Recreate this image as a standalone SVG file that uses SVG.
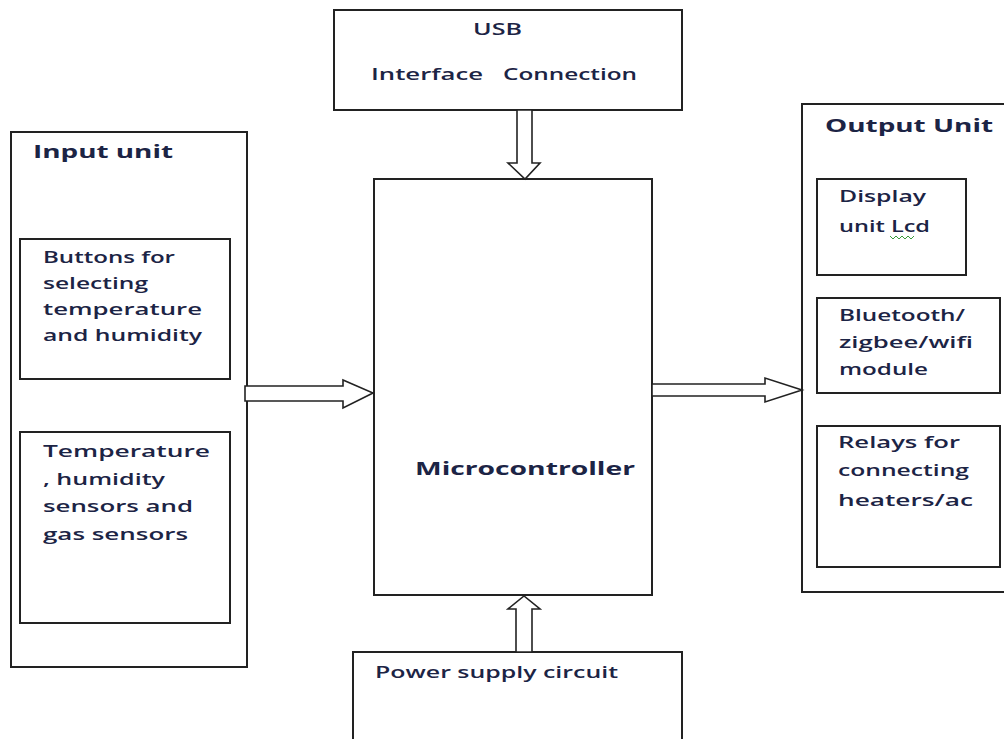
<svg xmlns="http://www.w3.org/2000/svg" width="1004" height="739" viewBox="0 0 1004 739">
<style>
.box{fill:#fff;stroke:#222;stroke-width:2}
.arr{fill:#fff;stroke:#222;stroke-width:1.6;stroke-linejoin:miter}
text{font-family:"Open Sans","Liberation Sans",sans-serif;fill:#1c2445;font-size:16px;font-weight:600}
.b{font-weight:bold;font-size:18px}
</style>
<rect width="1004" height="739" fill="#fff"/>
<g id="usb">
<rect class="box" x="334" y="10" width="348" height="100"/>
<text x="473" y="35" textLength="49" lengthAdjust="spacingAndGlyphs">USB</text>
<text x="371" y="80" textLength="112" lengthAdjust="spacingAndGlyphs">Interface</text>
<text x="503" y="80" textLength="134" lengthAdjust="spacingAndGlyphs">Connection</text>
</g>
<g id="microcontroller">
<rect class="box" x="374" y="179" width="278" height="416"/>
<text class="b" x="415" y="475" textLength="220" lengthAdjust="spacingAndGlyphs">Microcontroller</text>
</g>
<g id="input-unit">
<rect class="box" x="11" y="132" width="236" height="535"/>
<text class="b" x="33" y="158" textLength="140" lengthAdjust="spacingAndGlyphs">Input unit</text>
</g>
<g id="buttons">
<rect class="box" x="20" y="239" width="210" height="140"/>
<text x="43" y="263" textLength="132" lengthAdjust="spacingAndGlyphs">Buttons for</text>
<text x="43" y="289" textLength="105" lengthAdjust="spacingAndGlyphs">selecting</text>
<text x="43" y="315" textLength="159" lengthAdjust="spacingAndGlyphs">temperature</text>
<text x="43" y="341" textLength="159" lengthAdjust="spacingAndGlyphs">and humidity</text>
</g>
<g id="sensors">
<rect class="box" x="20" y="432" width="210" height="191"/>
<text x="43" y="457" textLength="167" lengthAdjust="spacingAndGlyphs">Temperature</text>
<text x="43" y="485" textLength="122" lengthAdjust="spacingAndGlyphs">, humidity</text>
<text x="43" y="512" textLength="150" lengthAdjust="spacingAndGlyphs">sensors and</text>
<text x="43" y="540" textLength="145" lengthAdjust="spacingAndGlyphs">gas sensors</text>
</g>
<g id="output-unit">
<rect class="box" x="802" y="104" width="220" height="488"/>
<text class="b" x="825" y="132" textLength="168" lengthAdjust="spacingAndGlyphs">Output Unit</text>
</g>
<g id="display">
<rect class="box" x="817" y="179" width="149" height="96"/>
<text x="839" y="202" textLength="87" lengthAdjust="spacingAndGlyphs">Display</text>
<text x="839" y="232" textLength="91" lengthAdjust="spacingAndGlyphs">unit Lcd</text>
<polyline points="890,236 893,239 896,236 899,239 902,236 905,239 908,236 911,239 914,236" fill="none" stroke="#3a9a3a" stroke-width="1"/>
</g>
<g id="wireless">
<rect class="box" x="817" y="298" width="183" height="95"/>
<text x="839" y="321" textLength="126" lengthAdjust="spacingAndGlyphs">Bluetooth/</text>
<text x="839" y="348" textLength="134" lengthAdjust="spacingAndGlyphs">zigbee/wifi</text>
<text x="839" y="375" textLength="89" lengthAdjust="spacingAndGlyphs">module</text>
</g>
<g id="relays">
<rect class="box" x="817" y="426" width="183" height="141"/>
<text x="838" y="448" textLength="122" lengthAdjust="spacingAndGlyphs">Relays for</text>
<text x="838" y="476" textLength="131" lengthAdjust="spacingAndGlyphs">connecting</text>
<text x="838" y="506" textLength="135" lengthAdjust="spacingAndGlyphs">heaters/ac</text>
</g>
<g id="power">
<rect class="box" x="353" y="652" width="329" height="100"/>
<text x="375" y="678" textLength="243" lengthAdjust="spacingAndGlyphs">Power supply circuit</text>
</g>
<g id="connectors">
<polygon class="arr" points="517,110 532,110 532,163 540,163 525,179 508,163 517,163"/>
<polygon class="arr" points="245,386 343,386 343,380 373,393 343,408 343,401 245,401"/>
<polygon class="arr" points="652,384 765,384 765,378 802,390 765,402 765,396 652,396"/>
<polygon class="arr" points="516,652 516,609 508,609 524,596 540,609 532,609 532,652"/>
</g>
</svg>
